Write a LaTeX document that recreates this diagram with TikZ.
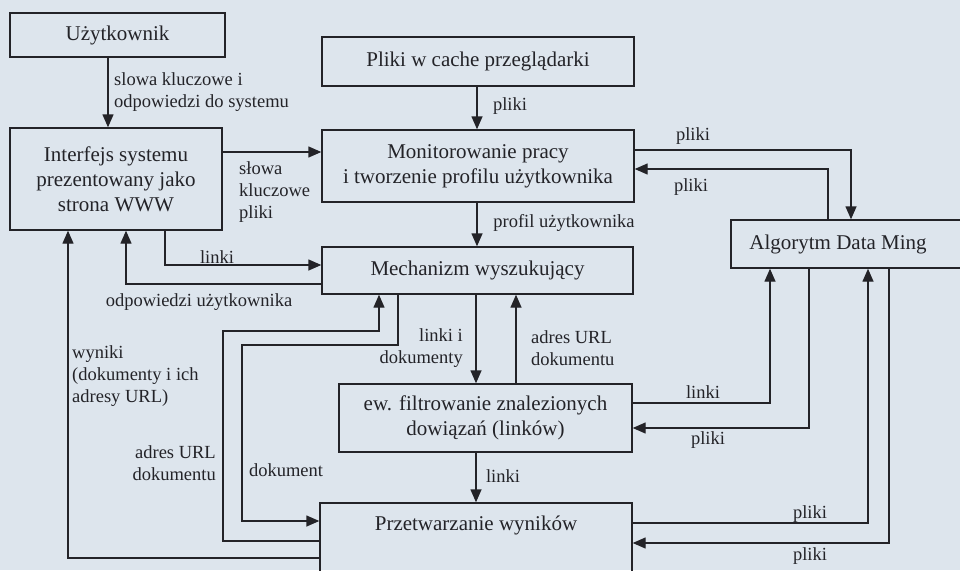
\documentclass[tikz,border=0pt]{standalone}
\usepackage{fontspec}
\setmainfont{Liberation Serif}
\usetikzlibrary{arrows.meta}
\definecolor{bg}{RGB}{221,229,237}
\definecolor{ink}{RGB}{35,35,40}
\begin{document}
\begin{tikzpicture}[x=1pt,y=-1pt,
  box/.style={draw=ink, line width=1.4pt, inner sep=0pt, align=center, font=\fontsize{21}{25}\selectfont, text=ink},
  btext/.style={inner sep=0pt, align=center, font=\fontsize{21}{25}\selectfont, text=ink},
  lbl/.style={inner sep=0pt, font=\fontsize{18.5}{22}\selectfont, text=ink},
  conn/.style={draw=ink, line width=1.4pt, -{Triangle[length=13pt,width=11pt]}},
]
\useasboundingbox (0,0) rectangle (960,570);
\fill[bg] (0,0) rectangle (960,570);
\clip (0,0) rectangle (960,570);

% boxes
\node[box, minimum width=215pt, minimum height=44pt] (uzy) at (117.5,35) {Użytkownik};
\node[box, minimum width=212pt, minimum height=102pt] (intf) at (116,179) {Interfejs systemu\\prezentowany jako\\strona WWW};
\node[box, minimum width=312pt, minimum height=49pt] (cache) at (478,61.5) {Pliki w cache przeglądarki};
\node[box, minimum width=312pt, minimum height=72pt] (mon) at (478,166) {Monitorowanie pracy\\i tworzenie profilu użytkownika};
\node[box, minimum width=311pt, minimum height=47pt] (mech) at (477.5,270.5) {Mechanizm wyszukujący};
\node[box, minimum width=293pt, minimum height=68pt] (ew) at (485.5,418) {ew. filtrowanie znalezionych\\dowiązań (linków)};
\node[box, minimum width=312pt, minimum height=87pt] (prz) at (476,546.5) {};
\node[btext] (prztext) at (476,525) {Przetwarzanie wyników};
\node[box, minimum width=259pt, minimum height=48pt] (alg) at (860.5,244) {};
\node[btext] (algtext) at (838,244) {Algorytm Data Ming};

% helper coordinates
\coordinate (X68) at (68,0);
\coordinate (X108) at (108,0);
\coordinate (X126) at (126,0);
\coordinate (X165) at (165,0);
\coordinate (X223) at (223,0);
\coordinate (X242) at (242,0);
\coordinate (X379) at (379,0);
\coordinate (X398) at (398,0);
\coordinate (X476) at (476,0);
\coordinate (X477) at (477,0);
\coordinate (X516) at (516,0);
\coordinate (X770) at (770,0);
\coordinate (X809) at (809,0);
\coordinate (X828) at (828,0);
\coordinate (X851) at (851,0);
\coordinate (X868) at (868,0);
\coordinate (X889) at (889,0);
\coordinate (Y150) at (0,150);
\coordinate (Y152) at (0,152);
\coordinate (Y169) at (0,169);
\coordinate (Y265) at (0,265);
\coordinate (Y284) at (0,284);
\coordinate (Y331) at (0,331);
\coordinate (Y345) at (0,345);
\coordinate (Y403) at (0,403);
\coordinate (Y428) at (0,428);
\coordinate (Y521) at (0,521);
\coordinate (Y523) at (0,523);
\coordinate (Y541) at (0,541);
\coordinate (Y543) at (0,543);
\coordinate (Y558) at (0,558);

% connectors
\draw[conn] (uzy.south -| X108) -- (intf.north -| X108);
\draw[conn] (intf.east |- Y152) -- (mon.west |- Y152);
\draw[conn] (intf.south -| X165) |- (mech.west |- Y265);
\draw[conn] (mech.west |- Y284) -| (intf.south -| X126);
\draw[conn] (prz.west |- Y558) -| (intf.south -| X68);
\draw[conn] (prz.west |- Y541) -| (X223 |- Y331) -| (mech.south -| X379);
\draw[conn] (mech.south -| X398) |- (X242 |- Y345) |- (prz.west |- Y521);
\draw[conn] (mech.south -| X476) -- (ew.north -| X476);
\draw[conn] (ew.north -| X516) -- (mech.south -| X516);
\draw[conn] (ew.south -| X476) -- (prz.north -| X476);
\draw[conn] (mon.south -| X477) -- (mech.north -| X477);
\draw[conn] (cache.south -| X477) -- (mon.north -| X477);
\draw[conn] (mon.east |- Y150) -| (alg.north -| X851);
\draw[conn] (alg.north -| X828) |- (mon.east |- Y169);
\draw[conn] (ew.east |- Y403) -| (alg.south -| X770);
\draw[conn] (alg.south -| X809) |- (ew.east |- Y428);
\draw[conn] (prz.east |- Y523) -| (alg.south -| X868);
\draw[conn] (alg.south -| X889) |- (prz.east |- Y543);

% labels
\node[lbl, anchor=west, align=left] (l1) at (114,92) {slowa kluczowe i\\odpowiedzi do systemu};
\node[lbl, anchor=west, align=left] (l2) at (239,192) {słowa\\kluczowe\\pliki};
\node[lbl] (l3) at (217,257) {linki};
\node[lbl] (l4) at (199,302) {odpowiedzi użytkownika};
\node[lbl, anchor=west, align=left] (l5) at (72,376) {wyniki\\(dokumenty i ich\\adresy URL)};
\node[lbl, anchor=east, align=right] (l6) at (216,463) {adres URL\\dokumentu};
\node[lbl] (l7) at (286,470) {dokument};
\node[lbl, anchor=east, align=right] (l8) at (463,348) {linki i\\dokumenty};
\node[lbl, anchor=west, align=left] (l9) at (531,348) {adres URL\\dokumentu};
\node[lbl] (l10) at (503,476) {linki};
\node[lbl] (l11) at (564,223) {profil użytkownika};
\node[lbl] (l12) at (510,106) {pliki};
\node[lbl] (l13) at (693,136) {pliki};
\node[lbl] (l14) at (691,187) {pliki};
\node[lbl] (l15) at (703,392) {linki};
\node[lbl] (l16) at (708,440) {pliki};
\node[lbl] (l17) at (810,514) {pliki};
\node[lbl] (l18) at (810,556) {pliki};
\end{tikzpicture}
\end{document}
